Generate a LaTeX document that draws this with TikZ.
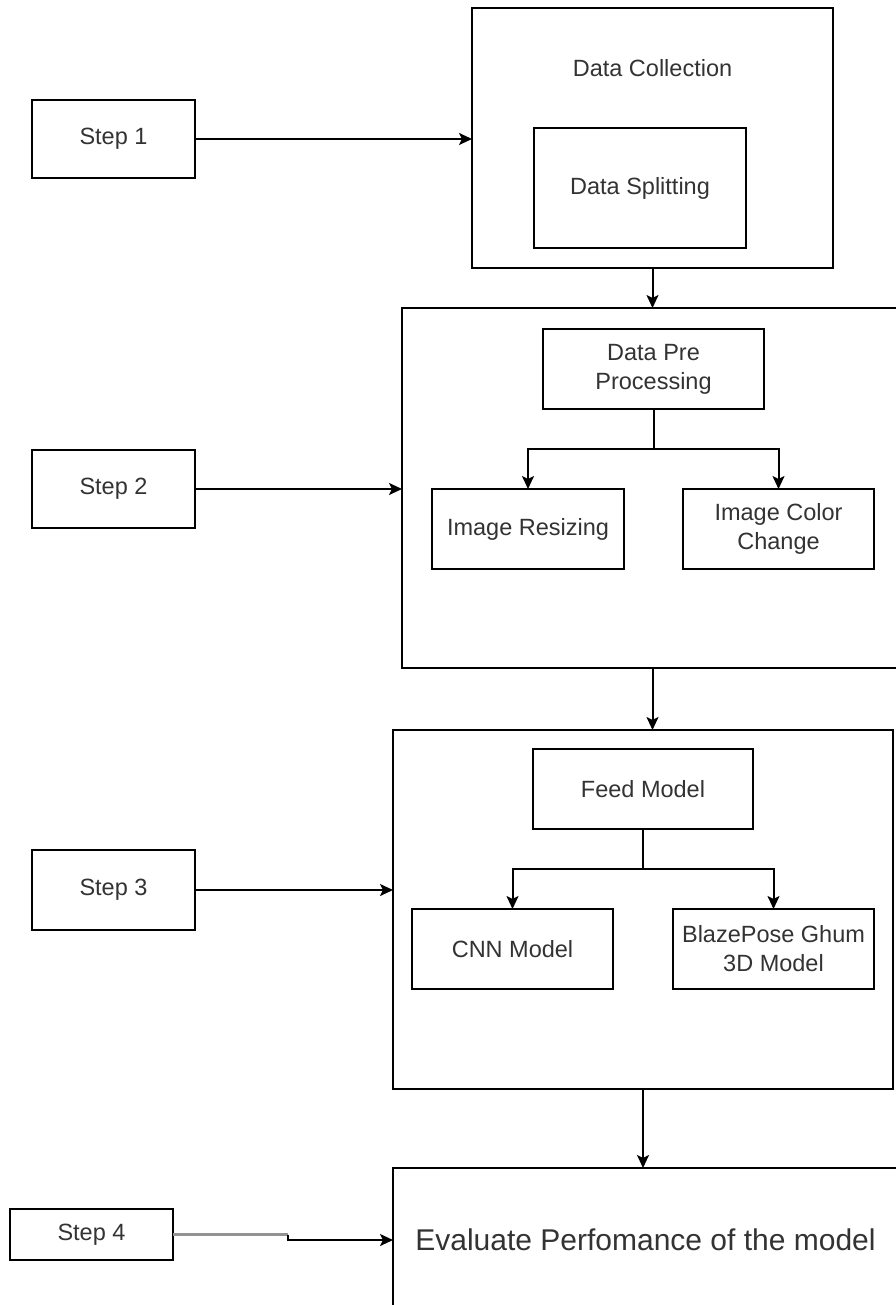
\documentclass[tikz,border=0pt]{standalone}
\usepackage{fontspec}
\setmainfont{Liberation Sans}
\usetikzlibrary{arrows.meta}
\definecolor{txt}{HTML}{333333}
\begin{document}
\begin{tikzpicture}[x=1pt,y=-1pt,
  box/.style={draw=black, line width=2pt, rectangle, inner sep=2pt, outer sep=0pt,
    text=txt, align=center, font=\fontsize{23.5}{29}\selectfont},
  conn/.style={draw=black, line width=2pt, -{Stealth[length=13pt,width=12pt,inset=3pt]}},
  plain/.style={draw=black, line width=2pt}]
\useasboundingbox[fill=white] (0,0) rectangle (895,1305);
% step boxes
\node[box, minimum width=163, minimum height=78] (s1) at (113.5,139) {Step 1};
\node[box, minimum width=163, minimum height=78] (s2) at (113.5,489) {Step 2};
\node[box, minimum width=163, minimum height=80] (s3) at (113.5,890) {Step 3};
\node[box, minimum width=163, minimum height=51] (s4) at (91.5,1234.5) {Step 4};
% stage 1
\node[box, minimum width=361, minimum height=260] (B1) at (652.5,138) {};
\node[text=txt, font=\fontsize{23.5}{29}\selectfont] (dc) at (652.5,68) {Data Collection};
\node[box, minimum width=212, minimum height=120] (ds) at (640,188) {Data Splitting};
% stage 2
\node[box, minimum width=496, minimum height=360] (B2) at (650,488) {};
\node[box, minimum width=221, minimum height=80] (pre) at (653.5,369) {Data Pre\\Processing};
\node[box, minimum width=192, minimum height=80] (ir) at (528,529) {Image Resizing};
\node[box, minimum width=191, minimum height=80] (icc) at (778.5,529) {Image Color\\Change};
% stage 3
\node[box, minimum width=500, minimum height=359] (B3) at (643,909.5) {};
\node[box, minimum width=220, minimum height=80] (feed) at (643,789) {Feed Model};
\node[box, minimum width=201, minimum height=80] (cnn) at (512.5,949) {CNN Model};
\node[box, minimum width=201, minimum height=80] (blaze) at (773.5,949) {BlazePose Ghum\\3D Model};
% stage 4
\node[box, minimum width=505, minimum height=144, font=\fontsize{30}{36}\selectfont] (B4) at (645.5,1240) {Evaluate Perfomance of the model};
% connectors
\draw[conn] (s1.east) -- (B1.west |- s1.east);
\draw[conn] (B1.south) -- (B1.south |- B2.north);
\draw[plain] (pre.south) -- ++(0,40) coordinate (j2);
\draw[conn] (j2) -| (ir.north);
\draw[conn] (j2) -| (icc.north);
\draw[conn] (s2.east) -- (B2.west |- s2.east);
\draw[conn] (B1.south |- B2.south) -- (B1.south |- B3.north);
\draw[plain] (feed.south) -- ++(0,40) coordinate (j3);
\draw[conn] (j3) -| (cnn.north);
\draw[conn] (j3) -| (blaze.north);
\draw[conn] (s3.east) -- (B3.west |- s3.east);
\draw[conn] (B3.south) -- (B3.south |- B4.north);
\coordinate (j4) at (288,1240);
\draw[line width=2.6pt, draw=gray!85] (s4.east) -- (s4.east -| j4);
\draw[conn] (s4.east -| j4) -- (j4) -- (B4.west);
\end{tikzpicture}
\end{document}
